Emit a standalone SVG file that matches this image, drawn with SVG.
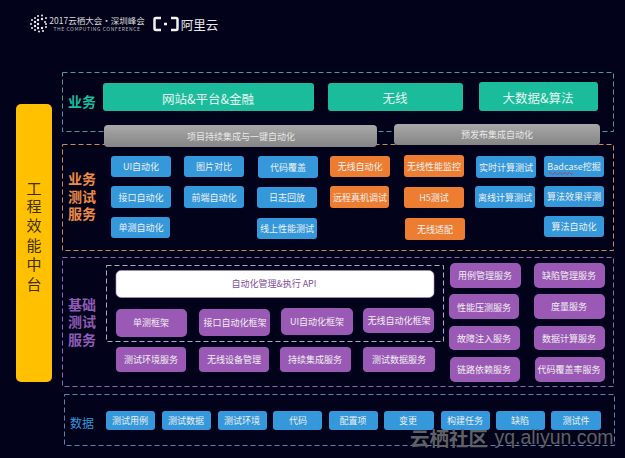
<svg xmlns="http://www.w3.org/2000/svg" width="625" height="458" viewBox="0 0 625 458">
<style>
text{font-family:"Noto Sans CJK SC","Liberation Sans",sans-serif;text-anchor:middle;dominant-baseline:central}
.g rect{fill:#1abc9c}.g text{fill:#e6f5f1;font-size:12.5px}
.s rect{fill:url(#gr)}.s text{fill:#e8e8e8;font-size:9px}
.b rect{fill:#3498db}.o rect{fill:#ed7d31}.p rect{fill:#9b59b6}
.b text,.o text,.p text{fill:#f0f0f0;font-size:9px}
.d rect{fill:#3498db}.d text{fill:#eee;font-size:9px}
.box{fill:none;stroke-width:1;stroke-dasharray:5 3}
.lab{font-weight:700;font-size:14px}
</style>
<defs><linearGradient id="gr" x1="0" y1="0" x2="0" y2="1"><stop offset="0" stop-color="#a8a8a8"/><stop offset="1" stop-color="#858585"/></linearGradient></defs>
<rect width="625" height="458" fill="#02021a"/>
<g id="logo">
<g fill="#ececec"><circle cx="38" cy="16" r="1"/><circle cx="42" cy="15.500" r="1"/><circle cx="35" cy="18" r="1"/><circle cx="32" cy="20" r="1"/><circle cx="31" cy="24" r="1"/><circle cx="32" cy="28" r="1"/><circle cx="35" cy="22" r="1.200"/><circle cx="35" cy="26" r="1.200"/><circle cx="38" cy="20" r="1.200"/><circle cx="42" cy="19" r="1.200"/><circle cx="46" cy="18" r="1"/><circle cx="38" cy="24" r="1.200"/><circle cx="35" cy="30" r="1"/><circle cx="38" cy="28" r="1.200"/><circle cx="39" cy="31.500" r="1"/><circle cx="42" cy="28" r="1.200"/><circle cx="43" cy="31" r="1"/><circle cx="46" cy="27" r="1"/><circle cx="45" cy="22" r="1"/><circle cx="46" cy="24" r="1"/></g>
<text x="97" y="19.500" style="font-size:8.500px" fill="#ddd">2017云栖大会·深圳峰会</text>
<text x="97" y="28" style="font-size:5px;letter-spacing:.6px" fill="#bbb">THE COMPUTING CONFERENCE</text>
<path d="M161 18h-5a1.500 1.500 0 0 0-1.500 1.500v9a1.500 1.500 0 0 0 1.500 1.500h5M171 18h5a1.500 1.500 0 0 1 1.500 1.500v9a1.500 1.500 0 0 1-1.500 1.500h-5M164 24h3" fill="none" stroke="#f2f2f2" stroke-width="2.500"/>
<text x="199.500" y="24" style="font-size:12.500px" fill="#e8e8e8">阿里云</text>
</g>
<g id="frames">
<rect class="box" x="62.500" y="72.500" width="551" height="59" stroke="#4f9a9a"/>
<rect class="box" x="62.500" y="144.500" width="551" height="106" stroke="#c98a55"/>
<rect class="box" x="62.500" y="257.500" width="551" height="129" stroke="#8a6ab0"/>
<rect class="box" x="106.500" y="265.500" width="337" height="76" stroke="#b5a8c5" stroke-width=".8"/>
<rect class="box" x="64.500" y="394.500" width="550" height="51" stroke="#5a86ad"/>
</g>
<g id="core"><rect x="16" y="104" width="36" height="278" rx="5" fill="#ffc000"/>
<g fill="#3a3000" style="font-size:15px"><text x="34" y="187">工</text><text x="34" y="205">程</text><text x="34" y="224">效</text><text x="34" y="244">能</text><text x="34" y="263">中</text><text x="34" y="283">台</text></g></g>
<g id="labels">
<text class="lab" x="82" y="101" fill="#1abc9c">业务</text>
<g class="lab" fill="#ed8b45"><text x="82" y="178">业务</text><text x="82" y="196">测试</text><text x="82" y="213">服务</text></g>
<g class="lab" fill="#8e5bb5"><text x="82" y="304">基础</text><text x="82" y="321">测试</text><text x="82" y="339">服务</text></g>
<text x="82" y="422" fill="#3498db" style="font-size:12px">数据</text>
</g>
<g id="business" class="g">
<rect x="103" y="83" width="211" height="28" rx="3"/><text x="208" y="98">网站&amp;平台&amp;金融</text>
<rect x="328" y="83" width="135" height="28" rx="3"/><text x="395" y="97">无线</text>
<rect x="479" y="82" width="119" height="29" rx="3"/><text x="538" y="97">大数据&amp;算法</text>
</g>
<g id="pipelines" class="s">
<rect x="104" y="125" width="273" height="22" rx="4"/><text x="241" y="136">项目持续集成与一键自动化</text>
<rect x="394" y="124" width="206" height="21" rx="4"/><text x="497" y="134">预发布集成自动化</text>
</g>
<g id="biz-test" class="b">
<rect x="111" y="156" width="60" height="21" rx="3"/><text x="141" y="166">UI自动化</text>
<rect x="184" y="156" width="60" height="21" rx="3"/><text x="214" y="166">图片对比</text>
<rect x="258" y="156" width="60" height="22" rx="3"/><text x="288" y="167">代码覆盖</text>
<rect x="111" y="186" width="60" height="22" rx="3"/><text x="141" y="197">接口自动化</text>
<rect x="184" y="186" width="60" height="22" rx="3"/><text x="214" y="197">前端自动化</text>
<rect x="257" y="187" width="60" height="21" rx="3"/><text x="287" y="197">日志回放</text>
<rect x="111" y="217" width="59" height="21" rx="3"/><text x="141" y="227">单测自动化</text>
<rect x="257" y="218" width="60" height="21" rx="3"/><text x="287" y="228">线上性能测试</text>
<rect x="476" y="156" width="60" height="22" rx="3"/><text x="506" y="167">实时计算测试</text>
<rect x="475" y="186" width="60" height="22" rx="3"/><text x="505" y="197">离线计算测试</text>
<rect x="544" y="156" width="60" height="21" rx="3"/><text x="574" y="166">Badcase挖掘</text>
<path d="M549 173.500q1.200-2 2.400 0t2.400 0 2.400 0 2.400 0 2.400 0 2.400 0 2.400 0 2.400 0 2.400 0 2.400 0" fill="none" stroke="#c0304a" stroke-width=".8"/>
<rect x="544" y="186" width="60" height="21" rx="3"/><text x="574" y="196">算法效果评测</text>
<rect x="544" y="216" width="60" height="21" rx="3"/><text x="574" y="226">算法自动化</text>
</g>
<g id="wireless-test" class="o">
<rect x="330" y="156" width="60" height="21" rx="3"/><text x="360" y="166">无线自动化</text>
<rect x="330" y="186" width="59" height="22" rx="3"/><text x="360" y="197">远程真机调试</text>
<rect x="404" y="155" width="60" height="22" rx="3"/><text x="434" y="166">无线性能监控</text>
<rect x="404" y="187" width="60" height="21" rx="3"/><text x="434" y="197">H5测试</text>
<rect x="405" y="218" width="60" height="22" rx="3"/><text x="435" y="229">无线适配</text>
</g>
<g id="base">
<rect x="116" y="270.500" width="318" height="27" rx="5" fill="#fff" stroke="#b28cc8" stroke-width=".6"/>
<text x="274" y="283" fill="#7d4d96" style="font-size:9px">自动化管理&amp;执行 API</text>
<g class="p">
<rect x="116" y="309" width="71" height="28" rx="5"/><text x="151" y="322">单测框架</text>
<rect x="199" y="309" width="71" height="27" rx="5"/><text x="235" y="322">接口自动化框架</text>
<rect x="281" y="308" width="72" height="27" rx="5"/><text x="317" y="321">UI自动化框架</text>
<rect x="363" y="308" width="71" height="25" rx="5"/><text x="399" y="320">无线自动化框架</text>
<rect x="116" y="347" width="70" height="25" rx="4"/><text x="151" y="359">测试环境服务</text>
<rect x="199" y="347" width="70" height="25" rx="4"/><text x="234" y="359">无线设备管理</text>
<rect x="280" y="347" width="71" height="25" rx="4"/><text x="315" y="359">持续集成服务</text>
<rect x="363" y="347" width="72" height="25" rx="4"/><text x="399" y="359">测试数据服务</text>
<rect x="450" y="263" width="71" height="25" rx="5"/><text x="485" y="275">用例管理服务</text>
<rect x="534" y="263" width="71" height="25" rx="5"/><text x="569" y="275">缺陷管理服务</text>
<rect x="449" y="294" width="70" height="25" rx="5"/><text x="484" y="307">性能压测服务</text>
<rect x="534" y="294" width="71" height="25" rx="5"/><text x="569" y="306">度量服务</text>
<rect x="449" y="326" width="71" height="24" rx="5"/><text x="484" y="338">故障注入服务</text>
<rect x="534" y="326" width="71" height="24" rx="5"/><text x="569" y="338">数据计算服务</text>
<rect x="450" y="357" width="70" height="25" rx="5"/><text x="484" y="369">链路依赖服务</text>
<rect x="535" y="357" width="70" height="25" rx="5"/><text x="569" y="369">代码覆盖率服务</text>
</g></g>
<g id="data" class="d">
<rect x="106" y="411" width="49" height="19" rx="3"/><text x="130" y="420">测试用例</text>
<rect x="162" y="411" width="49" height="19" rx="3"/><text x="186" y="420">测试数据</text>
<rect x="218" y="411" width="49" height="19" rx="3"/><text x="242" y="420">测试环境</text>
<rect x="273" y="411" width="49" height="19" rx="3"/><text x="298" y="420">代码</text>
<rect x="329" y="411" width="49" height="19" rx="3"/><text x="353" y="420">配置项</text>
<rect x="384" y="411" width="50" height="19" rx="3"/><text x="408" y="420">变更</text>
<rect x="441" y="411" width="49" height="19" rx="3"/><text x="465" y="420">构建任务</text>
<rect x="496" y="411" width="49" height="19" rx="3"/><text x="520" y="420">缺陷</text>
<rect x="551" y="411" width="50" height="19" rx="3"/><text x="576" y="420">测试件</text>
</g>
<g id="watermark" fill="#5f6165"><text x="449" y="437" style="font-size:19.500px;font-weight:700">云栖社区</text><text x="554" y="437" style="font-family:'Liberation Sans',sans-serif;font-size:19.500px">yq.aliyun.com</text></g>
</svg>
